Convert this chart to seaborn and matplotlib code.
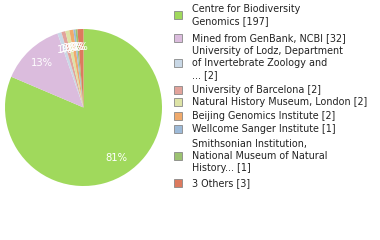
import matplotlib
matplotlib.use("Agg")
import matplotlib.pyplot as plt
import seaborn as sns
from matplotlib.patches import Rectangle

labels = [
    "Centre for Biodiversity\nGenomics [197]",
    "Mined from GenBank, NCBI [32]",
    "University of Lodz, Department\nof Invertebrate Zoology and\n... [2]",
    "University of Barcelona [2]",
    "Natural History Museum, London [2]",
    "Beijing Genomics Institute [2]",
    "Wellcome Sanger Institute [1]",
    "Smithsonian Institution,\nNational Museum of Natural\nHistory... [1]",
    "3 Others [3]",
]
values = [197, 32, 2, 2, 2, 2, 1, 1, 3]
colors = ["#a0d95c", "#dbbcdd", "#c9d8e6", "#e2a39b", "#dde3a6",
          "#f0aa6c", "#9dbad8", "#9cc271", "#dd7a5e"]

sns.set_style("white")
plt.rcParams['font.family'] = ['DejaVu Sans']

fig = plt.figure(figsize=(3.8, 2.4), dpi=100)
ax = fig.add_axes([5/380, 1 - 186/240, 157/380, 157/240])
wedges, texts, autotexts = ax.pie(
    values, colors=colors, startangle=90, counterclock=False,
    autopct="%.0f%%", pctdistance=0.77,
    textprops=dict(color="white", fontsize=7.2),
    wedgeprops=dict(linewidth=0))
ax.set_xlim(-1, 1)
ax.set_ylim(-1, 1)
ax.set_aspect("equal")
ax.axis("off")

# legend
entry_y = [15, 38, 63, 90, 102, 116, 129, 156, 183]
for lab, col, yc in zip(labels, colors, entry_y):
    fig.patches.append(Rectangle((174/380, 1 - (yc + 4)/240), 8/380, 8/240,
                                 transform=fig.transFigure, facecolor=col,
                                 edgecolor="#888888", linewidth=0.6))
    fig.text(192/380, 1 - yc/240, lab, fontsize=6.9, color="#222222",
             va="center", ha="left", linespacing=1.2)

fig.savefig("out.png", dpi=100)
